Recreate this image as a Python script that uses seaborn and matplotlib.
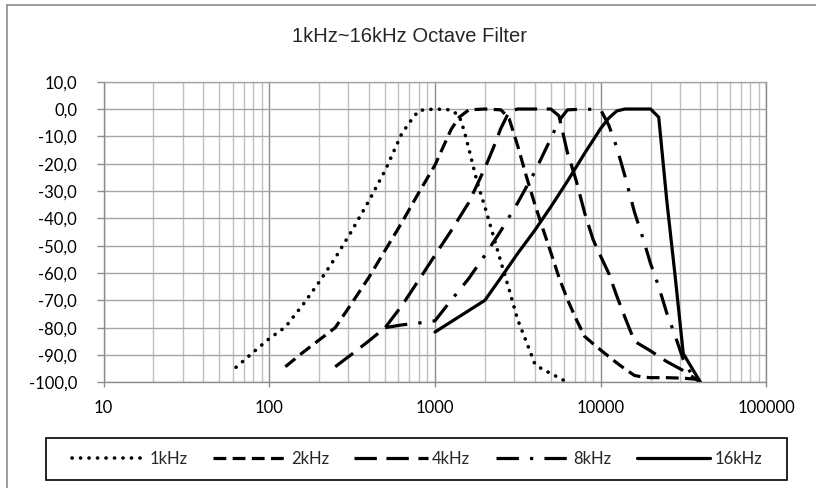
import matplotlib
matplotlib.use("Agg")
import matplotlib.pyplot as plt
import seaborn as sns
from matplotlib.lines import Line2D
from matplotlib.patches import Rectangle
from matplotlib.ticker import FixedLocator, FuncFormatter, LogLocator, NullFormatter

# Octave band filter responses: frequency (Hz) and attenuation (dB)
f_1k = [63, 80, 100, 125, 160, 200, 250, 315, 400, 500, 630, 710, 800, 1000,
        1250, 1400, 1500, 1600, 1800, 2000, 2240, 2500, 2800, 3150, 3550, 4000,
        4500, 5000, 5600, 6300]
db_1k = [-94.5, -89.0, -84.0, -79.8, -71.5, -63.3, -54.5, -44.5, -33.5, -22.5,
         -9.0, -4.5, -0.5, 0.0, -0.3, -2.5, -8.0, -14.5, -27.0, -35.8, -46.0,
         -56.0, -66.0, -77.0, -85.0, -93.2, -95.5, -96.7, -98.4, -100.0]

f_2k = [125, 160, 200, 250, 315, 400, 500, 630, 800, 1000, 1250, 1400, 1600,
        2000, 2500, 2800, 3150, 3550, 4000, 4500, 5000, 5600, 6300, 7100, 8000,
        9000, 10000, 11200, 12500, 14000, 16000, 18000, 20000, 25000, 31500, 40000]
db_2k = [-94.3, -89.0, -84.5, -80.0, -71.0, -61.5, -51.7, -41.6, -30.5, -20.5,
         -7.5, -3.0, -0.3, 0.0, -0.3, -3.5, -13.3, -24.4, -34.8, -44.2, -52.5,
         -61.6, -69.7, -76.8, -83.2, -85.9, -88.2, -90.6, -92.9, -95.1, -97.5,
         -98.1, -98.3, -98.3, -98.5, -99.0]

f_4k = [250, 315, 400, 500, 630, 800, 1000, 1250, 1600, 2000, 2240, 2500, 2800,
        3150, 4000, 5000, 5600, 6300, 7100, 8000, 9000, 10000, 11200, 12500,
        14000, 16000, 20000, 25000, 31500, 40000]
db_4k = [-94.3, -89.7, -84.8, -80.0, -72.0, -62.5, -53.5, -44.6, -34.2, -21.6,
         -14.5, -7.0, -1.0, 0.0, 0.0, 0.0, -2.5, -16.0, -26.0, -38.0, -47.8,
         -53.9, -60.2, -68.4, -76.2, -85.0, -88.5, -92.4, -95.7, -100.0]

f_8k = [500, 630, 800, 1000, 1250, 1600, 2000, 2500, 3150, 4000, 5000, 5600,
        6300, 8000, 10000, 11200, 12500, 14000, 16000, 18000, 20000, 22400,
        25000, 28000, 31500, 35500, 40000]
db_8k = [-80.0, -79.0, -78.3, -77.5, -70.0, -62.0, -53.5, -44.5, -34.4, -23.0,
         -10.8, -4.3, -0.3, 0.0, -0.3, -6.0, -14.0, -24.5, -37.8, -47.3, -56.6,
         -65.0, -74.5, -82.6, -91.7, -97.3, -100.0]

f_16k = [1000, 2000, 2500, 3150, 4000, 5000, 6300, 8000, 10000, 11200, 12500,
         14000, 16000, 20000, 22400, 25000, 28000, 31500, 40000]
db_16k = [-81.6, -70.0, -61.7, -52.9, -44.4, -35.8, -26.4, -16.2, -7.1, -3.3,
          -0.7, 0.0, 0.0, 0.0, -3.0, -33.0, -60.0, -89.5, -100.0]

band_labels = ["1kHz", "2kHz", "4kHz", "8kHz", "16kHz"]
x_ticks = [10, 100, 1000, 10000, 100000]
y_ticks = [-100, -90, -80, -70, -60, -50, -40, -30, -20, -10, 0, 10]
title = "1kHz~16kHz Octave Filter"

sns.set_style("white")
plt.rcParams["font.family"] = ["Lato", "DejaVu Sans"]

W, H = 816, 488
fig = plt.figure(figsize=(W / 100, H / 100), dpi=100)
x0, x1, y_top, y_bot = 103.6, 766.4, 81.7, 382.3
ax = fig.add_axes([x0 / W, 1 - y_bot / H, (x1 - x0) / W, (y_bot - y_top) / H])

# (dash pattern, cap style, line width) per band
line_styles = [
    ((0, (0.05, 2.3)), "round", 2.6),
    ((0, (4.0, 2.0)), "butt", 2.3),
    ((0, (7.0, 3.0)), "butt", 2.3),
    ((0, (7.0, 3.5, 1.0, 3.5)), "butt", 2.3),
    ("-", "butt", 2.3),
]
series = [(f_1k, db_1k), (f_2k, db_2k), (f_4k, db_4k), (f_8k, db_8k), (f_16k, db_16k)]

for (f, db), label, (ls, cap, lw) in zip(series, band_labels, line_styles):
    sns.lineplot(x=f, y=db, ax=ax, color="black", linewidth=lw, linestyle=ls,
                 label=label, estimator=None)
    ln = ax.lines[-1]
    ln.set_dash_capstyle(cap)
    ln.set_solid_joinstyle("round")

ax.set_xscale("log")
ax.set_xlim(10, 100000)
ax.set_ylim(-100, 10)
ax.set_xlabel("")
ax.set_ylabel("")

ax.xaxis.set_major_locator(FixedLocator(x_ticks))
ax.xaxis.set_major_formatter(FuncFormatter(lambda v, p: f"{int(round(v))}"))
ax.xaxis.set_minor_locator(LogLocator(base=10, subs=range(2, 10), numticks=20))
ax.xaxis.set_minor_formatter(NullFormatter())
ax.yaxis.set_major_locator(FixedLocator(y_ticks))
ax.yaxis.set_major_formatter(FuncFormatter(lambda v, p: f"{v:.1f}".replace(".", ",")))

grid_major = "#8c8c8c"
grid_light = "#bfbfbf"
ax.grid(False)
ax.grid(which="major", axis="y", color="#a6a6a6", linewidth=1.0)
ax.grid(which="major", axis="x", color=grid_major, linewidth=1.0)
ax.grid(which="minor", axis="x", color=grid_light, linewidth=1.0)
ax.set_axisbelow(True)

for side in ["left", "bottom"]:
    ax.spines[side].set_color(grid_major)
ax.spines["top"].set_color("#a6a6a6")
ax.spines["right"].set_color(grid_major)
for side in ["left", "bottom", "top", "right"]:
    ax.spines[side].set_linewidth(1.0)

tick_size = 12
ax.tick_params(axis="y", which="major", direction="out", length=5, width=1,
               color=grid_major, labelsize=tick_size, pad=14, labelcolor="black", left=True)
ax.tick_params(axis="x", which="major", direction="out", length=3.6, width=1,
               color=grid_major, labelsize=tick_size, pad=9, labelcolor="black", bottom=True)
ax.tick_params(axis="x", which="minor", length=0)

handles, labels = ax.get_legend_handles_labels()
ax.get_legend().remove()

# legend frame drawn separately; entries spread evenly inside it
fig.add_artist(Rectangle((46 / W, 1 - 480 / H), 741 / W, 42 / H,
                         transform=fig.transFigure, fill=False,
                         edgecolor="black", linewidth=1.2))
fig.legend(handles, labels, loc="center", ncol=5, mode="expand",
           bbox_to_anchor=(72 / W, 1 - 470 / H, 690 / W, 22 / H),
           frameon=False, handlelength=4.4, handletextpad=0.25,
           borderaxespad=0, borderpad=0, fontsize=tick_size)

fig.text(409 / W, 1 - 37 / H, title, ha="center", va="center", fontsize=14.5,
         family=["Liberation Sans Narrow", "Liberation Sans", "DejaVu Sans"])

# outer chart border (left and top edges)
fig.add_artist(Line2D([7 / W, 7 / W], [0, 1 - 5 / H], transform=fig.transFigure,
                      color="#8c8c8c", linewidth=1.2))
fig.add_artist(Line2D([7 / W, 1], [1 - 5 / H, 1 - 5 / H], transform=fig.transFigure,
                      color="#8c8c8c", linewidth=1.2))

fig.savefig("out.png", dpi=100)
